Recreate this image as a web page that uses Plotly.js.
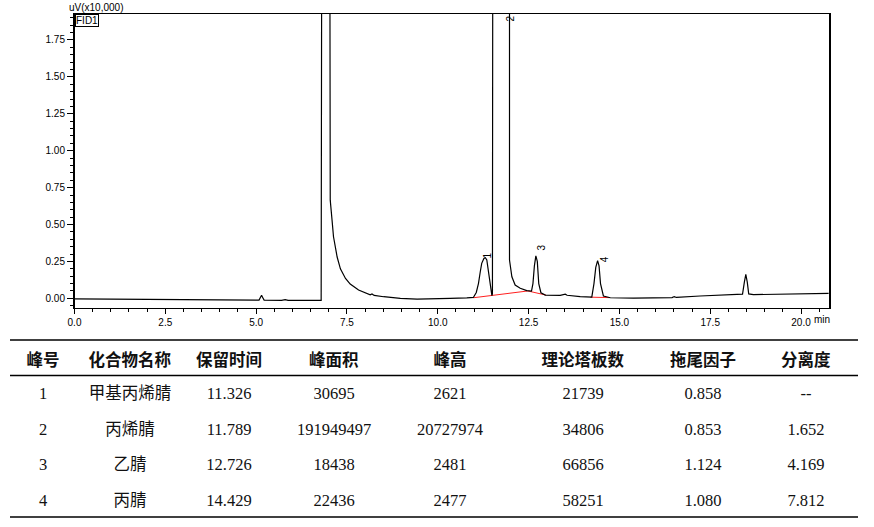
<!DOCTYPE html>
<html>
<head>
<meta charset="utf-8">
<script src="https://cdn.plot.ly/plotly-3.0.1.min.js"></script>
<style>
  html, body { margin: 0; padding: 0; background: #fff; }
  #chart { width: 874px; height: 527px; }
</style>
</head>
<body>
<div id="chart"></div>
<script>
// chromatogram (min, uV x10,000)
const timeMin = [0.00, 1.00, 2.00, 3.00, 4.00, 4.90, 5.08, 5.12, 5.15, 5.18, 5.22, 5.70, 5.80, 5.88, 6.50, 6.79,
  6.815, 6.92, 7.02, 7.04, 7.09, 7.13, 7.23, 7.32, 7.46, 7.59, 7.82, 8.05, 8.14, 8.19, 8.25, 8.51, 8.97, 9.43, 9.88,
  10.34, 10.80, 10.98, 11.06, 11.12, 11.17, 11.21, 11.27, 11.31, 11.35, 11.39, 11.43, 11.46, 11.49,
  11.505, 11.52, 11.789, 11.955, 11.975, 12.04, 12.13, 12.27, 12.45, 12.58, 12.62, 12.66, 12.70, 12.74, 12.78, 12.84,
  12.96, 13.37, 13.46, 13.51, 13.56, 13.92, 14.24, 14.30, 14.35, 14.40, 14.44, 14.48, 14.56, 14.75, 15.39,
  16.30, 16.45, 16.51, 16.57, 17.22, 18.14, 18.39, 18.44, 18.48, 18.52, 18.56, 18.69, 19.51, 20.76];
const signal = [-0.004, -0.006, -0.008, -0.010, -0.012, -0.013, -0.012, 0.008, 0.020, 0.006, -0.012, -0.014, -0.009, -0.014, -0.014, -0.014,
  4.0, 40.0, 4.0, 0.665, 0.53, 0.417, 0.28, 0.20, 0.135, 0.097, 0.056, 0.034, 0.024, 0.030, 0.020, 0.011, 0.000, -0.005, -0.005,
  0.000, 0.003, 0.006, 0.04, 0.10, 0.18, 0.237, 0.270, 0.275, 0.26, 0.19, 0.11, 0.056, 0.018,
  0.03, 4.0, 2072.8, 4.0, 0.26, 0.146, 0.09, 0.068, 0.052, 0.049, 0.10, 0.22, 0.288, 0.25, 0.10, 0.038,
  0.022, 0.020, 0.022, 0.028, 0.021, 0.011, 0.009, 0.10, 0.21, 0.255, 0.22, 0.10, 0.016, 0.004, 0.002,
  0.004, 0.005, 0.012, 0.006, 0.016, 0.025, 0.029, 0.11, 0.163, 0.11, 0.03, 0.025, 0.029, 0.034];

// integration baselines (red)
const baseTime = [10.98, 11.49, 12.48, 12.98, null, 14.20, 14.72];
const baseSignal = [0.004, 0.018, 0.050, 0.022, null, 0.008, 0.005];

// peak number labels
const peakNo = ['1', '2', '3', '4'];
const peakLabelTime = [11.38, 12.01, 12.87, 14.60];
const peakLabelSignal = [0.255, 1.86, 0.31, 0.23];

// result table
const headers = ['峰号', '化合物名称', '保留时间', '峰面积', '峰高', '理论塔板数', '拖尾因子', '分离度'];
const colNo = ['1', '2', '3', '4'];
const colName = ['甲基丙烯腈', '丙烯腈', '乙腈', '丙腈'];
const colRt = ['11.326', '11.789', '12.726', '14.429'];
const colArea = ['30695', '191949497', '18438', '22436'];
const colHeight = ['2621', '20727974', '2481', '2477'];
const colPlates = ['21739', '34806', '66856', '58251'];
const colTailing = ['0.858', '0.853', '1.124', '1.080'];
const colResolution = ['--', '1.652', '4.169', '7.812'];

const W = 874, H = 527;
const px = v => v / W;
const py = v => 1 - v / H;

function chromTraces() {
  const trace = {
    x: timeMin,
    y: signal,
    type: 'scatter',
    mode: 'lines',
    line: { color: '#000', width: 1.2 },
    hoverinfo: 'skip',
    xaxis: 'x',
    yaxis: 'y'
  };
  const base = {
    x: baseTime,
    y: baseSignal,
    type: 'scatter',
    mode: 'lines',
    line: { color: '#ff2020', width: 1 },
    connectgaps: false,
    hoverinfo: 'skip',
    xaxis: 'x',
    yaxis: 'y'
  };
  return [base, trace];
}

function tableTrace() {
  return {
    type: 'table',
    domain: { x: [px(10), px(866)], y: [py(521), py(339)] },
    columnwidth: [66, 108, 90, 120, 112, 154, 86, 120],
    header: {
      values: headers.map(h => '<b>' + h + '</b>'),
      height: 39.5,
      align: 'center',
      line: { width: 0, color: '#fff' },
      fill: { color: '#fff' },
      font: { family: 'Noto Sans CJK SC', size: 16.5, color: '#111' }
    },
    cells: {
      values: [colNo, colName, colRt, colArea, colHeight, colPlates, colTailing, colResolution],
      height: 35.5,
      align: 'center',
      line: { width: 0, color: '#fff' },
      fill: { color: '#fff' },
      font: { family: 'Liberation Serif, Noto Sans CJK SC', size: 16.5, color: '#111' }
    }
  };
}

function peakLabels() {
  return peakNo.map((n, i) => ({
    x: peakLabelTime[i],
    y: peakLabelSignal[i],
    xref: 'x',
    yref: 'y',
    text: n,
    textangle: -90,
    showarrow: false,
    xanchor: 'center',
    yanchor: 'bottom',
    font: { family: 'Liberation Sans', size: 10, color: '#000' }
  }));
}

function main() {
  const axisFont = { family: 'Liberation Sans, Arial', size: 10, color: '#000' };
  const layout = {
    width: W,
    height: H,
    margin: { l: 0, r: 0, t: 0, b: 0 },
    paper_bgcolor: '#fff',
    plot_bgcolor: '#fff',
    showlegend: false,
    xaxis: {
      domain: [px(74.5), px(829)],
      range: [0, 20.77],
      tickvals: [0, 2.5, 5, 7.5, 10, 12.5, 15, 17.5, 20],
      tickformat: '.1f',
      ticks: 'outside',
      ticklen: 5,
      tickcolor: '#000',
      minor: { dtick: 0.5, ticks: 'outside', ticklen: 3, tickcolor: '#000' },
      showline: true,
      linecolor: '#000',
      linewidth: 1,
      mirror: true,
      showgrid: false,
      zeroline: false,
      tickfont: axisFont,
      fixedrange: true
    },
    yaxis: {
      domain: [py(307.5), py(14)],
      range: [-0.062, 1.926],
      tickvals: [0, 0.25, 0.5, 0.75, 1.0, 1.25, 1.5, 1.75],
      tickformat: '.2f',
      ticks: 'outside',
      ticklen: 6,
      tickcolor: '#000',
      minor: { dtick: 0.05, ticks: 'outside', ticklen: 3, tickcolor: '#000' },
      showline: true,
      linecolor: '#000',
      linewidth: 1.5,
      mirror: true,
      showgrid: false,
      zeroline: false,
      tickfont: axisFont,
      fixedrange: true
    },
    annotations: peakLabels().concat([
      {
        xref: 'paper', yref: 'paper', x: px(67), y: py(8),
        xanchor: 'left', yanchor: 'middle', showarrow: false,
        text: 'uV(x10,000)', font: axisFont
      },
      {
        xref: 'paper', yref: 'paper', x: px(75), y: py(14.5),
        xanchor: 'left', yanchor: 'top', showarrow: false,
        text: 'FID1', font: axisFont,
        bordercolor: '#000', borderwidth: 1, borderpad: 0
      },
      {
        xref: 'paper', yref: 'paper', x: px(812), y: py(319),
        xanchor: 'left', yanchor: 'middle', showarrow: false,
        text: 'min', font: axisFont
      }
    ]),
    shapes: [340, 375.5, 517].map(yy => ({
      type: 'line', xref: 'paper', yref: 'paper',
      x0: px(10), x1: px(858), y0: py(yy), y1: py(yy),
      line: { color: '#000', width: 1.3 }
    }))
  };

  Plotly.newPlot('chart', chromTraces().concat([tableTrace()]), layout, { displayModeBar: false, staticPlot: true });
}

main();
</script>
</body>
</html>
